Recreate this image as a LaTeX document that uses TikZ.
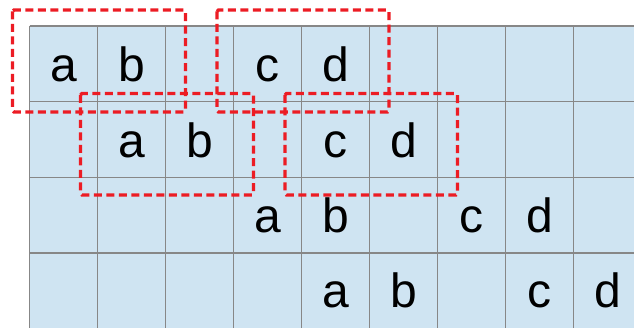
\documentclass[tikz,border=0pt]{standalone}
\usepackage{fontspec}
\setmainfont{Liberation Sans}
\definecolor{cellblue}{RGB}{207,228,242}
\definecolor{gridgray}{RGB}{135,135,135}
\definecolor{boxred}{RGB}{236,28,36}
\tikzset{
  letter/.style={anchor=base, inner sep=0pt, font=\fontsize{48}{48}\selectfont},
  redbox/.style={draw=boxred, line width=3.4pt, dash pattern=on 8pt off 4.5pt, rounded corners=1.5pt},
  gridline/.style={draw=gridgray, line width=1.3pt}
}
\begin{document}
\begin{tikzpicture}[x=1pt,y=-1pt]
\useasboundingbox (0,0) rectangle (634,328);
\begin{scope}
\clip (0,0) rectangle (634,328);
\fill[cellblue] (29.5,26) rectangle (700,400);
\foreach \i in {0,...,9} {
  \draw[gridline] ({29.5+68*\i},26) -- ({29.5+68*\i},400);
}
\foreach \j in {0,...,4} {
  \draw[gridline] (29.5,{26+75.7*\j}) -- (700,{26+75.7*\j});
}
\end{scope}
% row 1
\node[letter] (r1a) at ({29.5+68*0+34},82) {a};
\node[letter] (r1b) at ({29.5+68*1+34},82) {b};
\node[letter] (r1c) at ({29.5+68*3+34},82) {c};
\node[letter] (r1d) at ({29.5+68*4+34},82) {d};
% row 2
\node[letter] (r2a) at ({29.5+68*1+34},158) {a};
\node[letter] (r2b) at ({29.5+68*2+34},158) {b};
\node[letter] (r2c) at ({29.5+68*4+34},158) {c};
\node[letter] (r2d) at ({29.5+68*5+34},158) {d};
% row 3
\node[letter] (r3a) at ({29.5+68*3+34},233) {a};
\node[letter] (r3b) at ({29.5+68*4+34},233) {b};
\node[letter] (r3c) at ({29.5+68*6+34},233) {c};
\node[letter] (r3d) at ({29.5+68*7+34},233) {d};
% row 4
\node[letter] (r4a) at ({29.5+68*4+34},308) {a};
\node[letter] (r4b) at ({29.5+68*5+34},308) {b};
\node[letter] (r4c) at ({29.5+68*7+34},308) {c};
\node[letter] (r4d) at ({29.5+68*8+34},308) {d};
% red dashed boxes
\draw[redbox] (12.5,10) rectangle (185.5,112);
\draw[redbox] (217,10) rectangle (389,112);
\draw[redbox] (80.5,93.5) rectangle (253.5,195);
\draw[redbox] (285,93.5) rectangle (457.5,195);
\end{tikzpicture}
\end{document}
